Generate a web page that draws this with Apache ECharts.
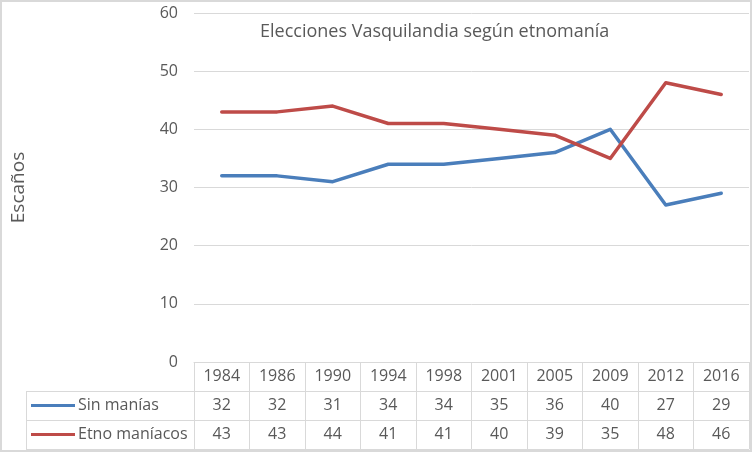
<!DOCTYPE html>
<html>
<head>
<meta charset="utf-8">
<script src="https://cdn.jsdelivr.net/npm/echarts@6/dist/echarts.min.js"></script>
<style>
html,body{margin:0;padding:0;background:#fff;}
#c{width:752px;height:452px;}
</style>
</head>
<body>
<div id="c"></div>
<script>
const years = ['1984','1986','1990','1994','1998','2001','2005','2009','2012','2016'];
const sinManias = [32,32,31,34,34,35,36,40,27,29];
const etnoManiacos = [43,43,44,41,41,40,39,35,48,46];
const seriesNames = ['Sin manías','Etno maníacos'];
const yTicks = [0,10,20,30,40,50,60];

const FONT = '"Open Sans", "Noto Sans", sans-serif';
const TXT = '#595959';
const GRID = '#d9d9d9';
const BLUE = '#4a7ebb';
const RED = '#be4b48';
const ROW = 29;

const chart = echarts.init(document.getElementById('c'), null, {renderer:'canvas'});

function tableAxis(offset, values, showLabel) {
  return {
    type: 'category',
    data: years,
    position: 'bottom',
    offset: offset,
    boundaryGap: true,
    axisLine: {show: true, lineStyle: {color: GRID, width: 1}},
    axisTick: {show: showLabel, interval: 0, length: ROW, alignWithLabel: false, lineStyle: {color: GRID, width: 1}},
    axisLabel: {
      show: showLabel, interval: 0, margin: 0,
      color: TXT, fontFamily: FONT, fontSize: 16, lineHeight: ROW,
      formatter: function (v, i) { return values ? String(values[i]) : v; }
    },
    splitLine: {show: false}
  };
}

const option = {
  animation: false,
  textStyle: {fontFamily: FONT},
  title: {
    text: 'Elecciones Vasquilandia según etnomanía',
    left: 260, top: 23, padding: 0,
    textStyle: {color: TXT, fontFamily: FONT, fontSize: 18, fontWeight: 'normal'}
  },
  grid: {left: 194, right: 3, top: 13, bottom: 90, containLabel: false},
  legend: [
    {data: [seriesNames[0]], left: 31, top: 391, padding: 0, itemWidth: 44, itemHeight: 3, itemGap: 0, icon: 'rect', selectedMode: false,
     textStyle: {color: TXT, fontFamily: FONT, fontSize: 16, lineHeight: ROW, padding: [0, 0, 0, -2]}},
    {data: [seriesNames[1]], left: 31, top: 420, padding: 0, itemWidth: 44, itemHeight: 3, itemGap: 0, icon: 'rect', selectedMode: false,
     textStyle: {color: TXT, fontFamily: FONT, fontSize: 16, lineHeight: ROW, padding: [0, 0, 0, -2]}}
  ],
  xAxis: [
    tableAxis(0, null, true),
    tableAxis(ROW, sinManias, true),
    tableAxis(ROW * 2, etnoManiacos, true),
    tableAxis(ROW * 3, null, false)
  ],
  yAxis: {
    type: 'value', min: yTicks[0], max: yTicks[yTicks.length - 1], interval: 10,
    name: 'Escaños', nameLocation: 'middle', nameRotate: 90, nameGap: 166,
    nameTextStyle: {color: TXT, fontFamily: FONT, fontSize: 19},
    axisLine: {show: false}, axisTick: {show: false},
    axisLabel: {color: TXT, fontFamily: FONT, fontSize: 16, margin: 16},
    splitLine: {lineStyle: {color: GRID, width: 1}}
  },
  series: [
    {name: seriesNames[0], type: 'line', xAxisIndex: 0, data: sinManias, symbol: 'none',
     color: BLUE, lineStyle: {color: BLUE, width: 3.5, join: 'round', cap: 'round'}, itemStyle: {color: BLUE}},
    {name: seriesNames[1], type: 'line', xAxisIndex: 0, data: etnoManiacos, symbol: 'none',
     color: RED, lineStyle: {color: RED, width: 3.5, join: 'round', cap: 'round'}, itemStyle: {color: RED}}
  ],
  graphic: [
    {type: 'line', silent: true, shape: {x1: 26, y1: 391.5, x2: 194, y2: 391.5}, style: {stroke: GRID, lineWidth: 1}},
    {type: 'line', silent: true, shape: {x1: 26, y1: 420.5, x2: 194, y2: 420.5}, style: {stroke: GRID, lineWidth: 1}},
    {type: 'line', silent: true, shape: {x1: 26, y1: 449.5, x2: 194, y2: 449.5}, style: {stroke: GRID, lineWidth: 1}},
    {type: 'line', silent: true, shape: {x1: 26.5, y1: 391, x2: 26.5, y2: 450}, style: {stroke: GRID, lineWidth: 1}},
    {type: 'rect', silent: true, z: 100, shape: {x: 1, y: 1, width: 750, height: 450}, style: {fill: 'none', stroke: GRID, lineWidth: 2}}
  ]
};
chart.setOption(option);
</script>
</body>
</html>
